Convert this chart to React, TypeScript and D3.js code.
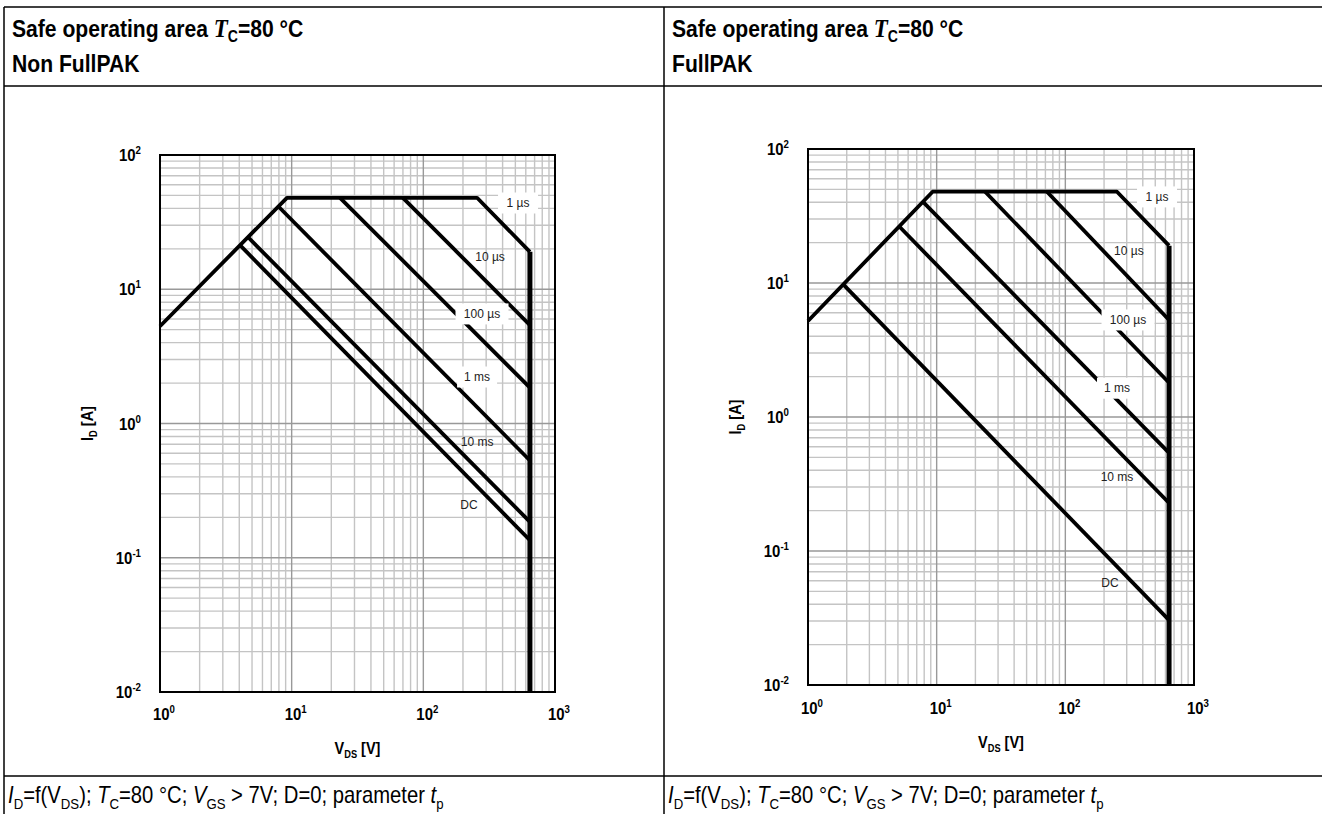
import * as d3 from 'd3';
import type {ReactNode} from 'react';

type Pt = [number, number];

const SANS = '"Liberation Sans", Arial, Helvetica, sans-serif';
const SERIF = '"Liberation Serif", "Times New Roman", serif';

// axis decades
const xExponents = [0, 1, 2, 3];
const yExponents = [-2, -1, 0, 1, 2];

// Non FullPAK, [V_DS (V), I_D (A)]
const nonFpEnvelope: Pt[] = [[1, 5.3], [9.2, 48], [256, 48], [645, 19]];
const nonFp10us: Pt[] = [[70, 48], [645, 5.4]];
const nonFp100us: Pt[] = [[23.3, 48], [645, 1.85]];
const nonFp1ms: Pt[] = [[7.9, 41.5], [645, 0.53]];
const nonFp10ms: Pt[] = [[4.65, 24.5], [645, 0.185]];
const nonFpDc: Pt[] = [[4.05, 21.3], [645, 0.135]];
const nonFpVdsLimit: Pt[] = [[645, 19], [645, 0.01]];
const nonFpLabels: [string, number, number, boolean][] = [
  ['1 µs', 524, 43.9, true],
  ['10 µs', 321, 17.4, false],
  ['100 µs', 279, 6.55, true],
  ['1 ms', 256, 2.22, true],
  ['10 ms', 256, 0.73, false],
  ['DC', 222, 0.25, false],
];

// FullPAK
const fpEnvelope: Pt[] = [[1, 5.2], [9.3, 48], [252, 48], [640, 19]];
const fp10us: Pt[] = [[72, 48], [640, 5.3]];
const fp100us: Pt[] = [[23.8, 48], [640, 1.8]];
const fp1ms: Pt[] = [[7.8, 40.5], [640, 0.54]];
const fp10ms: Pt[] = [[5.1, 26.5], [640, 0.228]];
const fpDc: Pt[] = [[1.87, 9.8], [640, 0.0305]];
const fpVdsLimit: Pt[] = [[640, 19], [640, 0.01]];
const fpLabels: [string, number, number, boolean][] = [
  ['1 µs', 516, 43.9, true],
  ['10 µs', 312, 17.3, false],
  ['100 µs', 307, 5.3, true],
  ['1 ms', 252, 1.64, true],
  ['10 ms', 252, 0.356, false],
  ['DC', 222, 0.0577, false],
];

interface Frame {
  left: number;
  right: number;
  top: number;
  bottom: number;
  xLabelY: number;
  xTitleY: number;
  yTitleX: number;
}

interface ChartProps {
  frame: Frame;
  curves: Pt[][];
  limit: Pt[];
  labels: [string, number, number, boolean][];
}

// the original pdf font is narrower than Arial, so squeeze it a bit
const NARROW = 0.88;

const Narrow = ({x, y, rotate = 0, children, ...rest}: any) => (
  <text transform={`translate(${x},${y}) rotate(${rotate}) scale(${NARROW},1)`} {...rest}>{children as ReactNode}</text>
);

const isDecade = (v: number) => Math.abs(Math.log10(v) - Math.round(Math.log10(v))) < 1e-9;

const SoaChart = ({frame, curves, limit, labels}: ChartProps) => {
  const x = d3.scaleLog().domain([1, 1000]).range([frame.left, frame.right]);
  const y = d3.scaleLog().domain([0.01, 100]).range([frame.bottom, frame.top]);
  const line = d3.line<Pt>().x(d => x(d[0])).y(d => y(d[1]));

  const xTicks = x.ticks();
  const yTicks = y.ticks();
  const midX = (frame.left + frame.right) / 2;
  const midY = (frame.top + frame.bottom) / 2;

  return (
    <g fontFamily={SANS}>
      {/* minor grid first, decades over it */}
      {xTicks.filter(t => !isDecade(t)).map(t => (
        <line key={'xm' + t} x1={x(t)} x2={x(t)} y1={frame.top} y2={frame.bottom} stroke="#c4c4c4" strokeWidth={1.4}/>
      ))}
      {yTicks.filter(t => !isDecade(t)).map(t => (
        <line key={'ym' + t} x1={frame.left} x2={frame.right} y1={y(t)} y2={y(t)} stroke="#c4c4c4" strokeWidth={1.4}/>
      ))}
      {xTicks.filter(isDecade).map(t => (
        <line key={'xM' + t} x1={x(t)} x2={x(t)} y1={frame.top} y2={frame.bottom} stroke="#999" strokeWidth={1.4}/>
      ))}
      {yTicks.filter(isDecade).map(t => (
        <line key={'yM' + t} x1={frame.left} x2={frame.right} y1={y(t)} y2={y(t)} stroke="#999" strokeWidth={1.4}/>
      ))}
      <rect x={frame.left} y={frame.top} width={frame.right - frame.left} height={frame.bottom - frame.top}
            fill="none" stroke="#000" strokeWidth={2}/>

      {curves.map((c, i) => (
        <path key={'c' + i} d={line(c) ?? ''} fill="none" stroke="#000" strokeWidth={3.8} strokeLinejoin="round"/>
      ))}
      <path d={line(limit) ?? ''} fill="none" stroke="#000" strokeWidth={5}/>

      {labels.map(([txt, v, a, boxed]) => {
        const w = txt.length * 6.5 + 14;
        return (
          <g key={txt}>
            {boxed && <rect x={x(v) - w / 2} y={y(a) - 10.5} width={w} height={21} fill="#fff"/>}
            <text x={x(v)} y={y(a)} dy="0.35em" textAnchor="middle" fontSize={12} fill="#222">{txt}</text>
          </g>
        );
      })}

      {yExponents.map(e => (
        <Narrow key={'yl' + e} x={frame.left - 19} y={y(Math.pow(10, e)) + 6} textAnchor="end"
                fontSize={17} fontWeight="bold">
          10<tspan dy={-7} fontSize={11}>{e}</tspan>
        </Narrow>
      ))}
      {xExponents.map(e => (
        <Narrow key={'xl' + e} x={x(Math.pow(10, e)) + 4} y={frame.xLabelY} textAnchor="middle"
                fontSize={17} fontWeight="bold">
          10<tspan dy={-7} fontSize={11}>{e}</tspan>
        </Narrow>
      ))}

      <Narrow x={midX} y={frame.xTitleY} textAnchor="middle" fontSize={16.5} fontWeight="bold">
        V<tspan dy={4} fontSize={10.5}>DS</tspan><tspan dy={-4}> [V]</tspan>
      </Narrow>
      <Narrow x={frame.yTitleX} y={midY} rotate={-90} textAnchor="middle" fontSize={16.5} fontWeight="bold">
        I<tspan dy={4} fontSize={10.5}>D</tspan><tspan dy={-4}> [A]</tspan>
      </Narrow>
    </g>
  );
};

const Title = ({x, pkg}: { x: number; pkg: string }) => (
  <g fontFamily={SANS} fontWeight="bold" fontSize={24}>
    <Narrow x={x} y={37}>
      {'Safe operating area '}
      <tspan fontFamily={SERIF} fontStyle="italic" fontSize={26}>T</tspan>
      <tspan dy={5} fontSize={16}>C</tspan>
      <tspan dy={-5}>=80 °C</tspan>
    </Narrow>
    <Narrow x={x} y={72}>{pkg}</Narrow>
  </g>
);

const Footer = ({x, y}: { x: number; y: number }) => (
  <Narrow x={x} y={y} fontFamily={SANS} fontSize={23}>
    <tspan fontStyle="italic">I</tspan>
    <tspan dy={6} fontSize={15}>D</tspan>
    <tspan dy={-6}>=f(V</tspan>
    <tspan dy={6} fontSize={15}>DS</tspan>
    <tspan dy={-6}>{'); '}</tspan>
    <tspan fontStyle="italic">T</tspan>
    <tspan dy={6} fontSize={15}>C</tspan>
    <tspan dy={-6}>{'=80 °C; '}</tspan>
    <tspan fontStyle="italic">V</tspan>
    <tspan dy={6} fontSize={15}>GS</tspan>
    <tspan dy={-6}>{' > 7V; D=0; parameter '}</tspan>
    <tspan fontStyle="italic">t</tspan>
    <tspan dy={6} fontSize={15}>p</tspan>
  </Narrow>
);

const leftFrame: Frame = {left: 160, right: 555, top: 155, bottom: 692, xLabelY: 720, xTitleY: 754, yTitleX: 93};
const rightFrame: Frame = {left: 808, right: 1194, top: 149, bottom: 685, xLabelY: 714, xTitleY: 748, yTitleX: 741};

export default function App() {
  const W = 1322, H = 814;
  const tableLeft = 4, divider = 664;
  return (
    <svg width={W} height={H} style={{position: 'absolute', left: 0, top: 0, background: '#fff'}}>
      <rect width={W} height={H} fill="#fff"/>
      <g stroke="#000" strokeWidth={1.5}>
        <line x1={tableLeft} x2={W} y1={7} y2={7}/>
        <line x1={tableLeft} x2={W} y1={86} y2={86}/>
        <line x1={tableLeft} x2={W} y1={776} y2={776}/>
        <line x1={tableLeft} x2={tableLeft} y1={7} y2={H}/>
        <line x1={divider} x2={divider} y1={7} y2={H}/>
      </g>
      <Title x={tableLeft + 8} pkg="Non FullPAK"/>
      <Title x={divider + 8} pkg="FullPAK"/>
      <SoaChart frame={leftFrame}
                curves={[nonFpEnvelope, nonFp10us, nonFp100us, nonFp1ms, nonFp10ms, nonFpDc]}
                limit={nonFpVdsLimit} labels={nonFpLabels}/>
      <SoaChart frame={rightFrame}
                curves={[fpEnvelope, fp10us, fp100us, fp1ms, fp10ms, fpDc]}
                limit={fpVdsLimit} labels={fpLabels}/>
      <Footer x={tableLeft + 4} y={803}/>
      <Footer x={divider + 4} y={803}/>
    </svg>
  );
}
